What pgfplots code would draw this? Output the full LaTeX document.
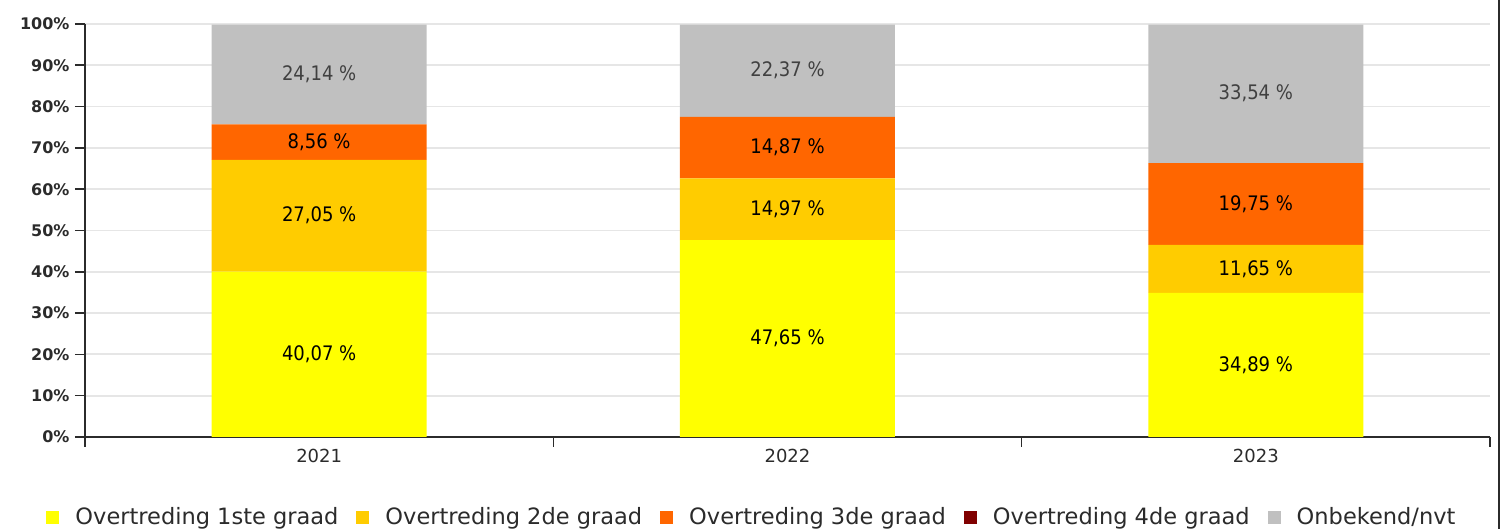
\documentclass[border=0pt]{standalone}
\usepackage{pgfplots}
\pgfplotsset{compat=1.18}
\usepackage{fontspec}
\setmainfont{DejaVu Sans}
\newfontfamily\condensed{DejaVu Sans Condensed}

\definecolor{graad1}{HTML}{FFFF00}
\definecolor{graad2}{HTML}{FFCC00}
\definecolor{graad3}{HTML}{FF6600}
\definecolor{graad4}{HTML}{800000}
\definecolor{onbekend}{HTML}{C0C0C0}
\definecolor{gridc}{HTML}{E6E6E6}
\definecolor{axc}{HTML}{2B2B2B}
\definecolor{lblgray}{HTML}{404040}

\pgfplotsset{
  base/.style={
    scale only axis,
    width=1405pt, height=413pt,
    xmin=-0.5, xmax=2.5,
    ymin=0, ymax=100,
    at={(0,0)}, anchor=south west,
  },
}

\begin{document}
\begin{tikzpicture}
\path[use as bounding box] (-85pt,-92pt) rectangle (1419pt,437pt);
% frame line at the right edge of the picture
\draw[axc, line width=2.5pt] (1414pt,-92pt) -- (1414pt,437pt);

% stacked bars
\begin{axis}[
    base,
    ybar stacked,
    bar width=215pt,
    axis lines*=left,
    axis line style={axc, line width=1.6pt},
    tick style={axc, line width=1.6pt},
    tick align=outside,
    major tick length=10pt,
    xtick={-0.5,0.5,1.5,2.5},
    xticklabels={},
    extra x ticks={0,1,2},
    extra x tick labels={2021,2022,2023},
    extra x tick style={major tick length=0pt},
    xticklabel style={font=\fontsize{18}{18}\selectfont, text=axc, yshift=-9pt},
    ytick={0,10,...,100},
    yticklabels={0\%,10\%,20\%,30\%,40\%,50\%,60\%,70\%,80\%,90\%,100\%},
    yticklabel style={font=\bfseries\fontsize{16}{16}\selectfont, text=axc, xshift=-2pt},
    ymajorgrids,
    grid style={gridc, line width=1.8pt},
    legend style={
      draw=none,
      at={(0.474,-0.194)}, anchor=center,
      legend columns=-1,
      font=\fontsize{22.5}{22.5}\selectfont,
      text=axc,
      nodes={inner xsep=0pt},
      /tikz/every odd column/.append style={column sep=16pt},
      /tikz/every even column/.append style={column sep=18pt},
    },
    legend image code/.code={\path[#1, draw=none] (0pt,-7pt) rectangle (13pt,6pt);},
]
  % Overtreding 1ste graad
  \addplot[fill=graad1, draw=none] coordinates {(0,40.07) (1,47.65) (2,34.89)};
  % Overtreding 2de graad
  \addplot[fill=graad2, draw=none] coordinates {(0,27.05) (1,14.97) (2,11.65)};
  % Overtreding 3de graad
  \addplot[fill=graad3, draw=none] coordinates {(0,8.56) (1,14.87) (2,19.75)};
  % Overtreding 4de graad
  \addplot[fill=graad4, draw=none] coordinates {(0,0) (1,0) (2,0)};
  % Onbekend/nvt
  \addplot[fill=onbekend, draw=none] coordinates {(0,24.14) (1,22.37) (2,33.54)};

  \legend{Overtreding 1ste graad, Overtreding 2de graad, Overtreding 3de graad,
          Overtreding 4de graad, Onbekend/nvt}
\end{axis}

% value labels, centred in each segment
\begin{axis}[
    base,
    hide axis,
    clip=false,
    point meta=explicit symbolic,
    nodes near coords,
    every node near coord/.append style={anchor=center,
      font=\condensed\fontsize{20}{20}\selectfont},
]
  \addplot[draw=none, mark=none, nodes near coords style={text=black}] coordinates {
    (0,20.035) [40,07 \%]
    (0,53.595) [27,05 \%]
    (0,71.40)  [8,56 \%]
    (1,23.825) [47,65 \%]
    (1,55.135) [14,97 \%]
    (1,70.055) [14,87 \%]
    (2,17.445) [34,89 \%]
    (2,40.715) [11,65 \%]
    (2,56.415) [19,75 \%]
  };
  \addplot[draw=none, mark=none, nodes near coords style={text=lblgray}] coordinates {
    (0,87.93)  [24,14 \%]
    (1,88.815) [22,37 \%]
    (2,83.23)  [33,54 \%]
  };
\end{axis}
\end{tikzpicture}
\end{document}
